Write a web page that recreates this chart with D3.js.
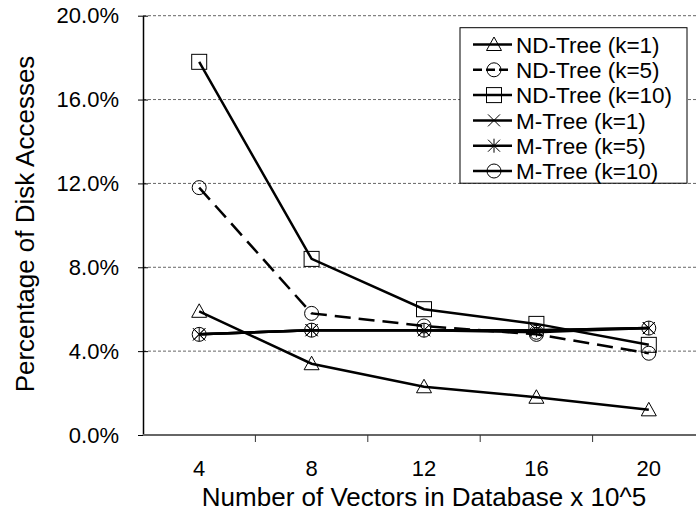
<!DOCTYPE html>
<html><head><meta charset="utf-8">
<script src="https://cdn.jsdelivr.net/npm/d3@7"></script>
<style>body{margin:0;background:#fff}svg{display:block;font-family:"Liberation Sans",Arial,sans-serif}</style>
</head><body><svg id="c" width="696" height="523"></svg>
<script>
const categories = ["4","8","12","16","20"];
const yTicks = [0,0.04,0.08,0.12,0.16,0.20];
const seriesNames = ["ND-Tree (k=1)","ND-Tree (k=5)","ND-Tree (k=10)","M-Tree (k=1)","M-Tree (k=5)","M-Tree (k=10)"];
const ndTree1  = [0.059,0.034,0.023,0.018,0.012];
const ndTree5  = [0.118,0.058,0.052,0.048,0.039];
const ndTree10 = [0.178,0.084,0.060,0.053,0.043];
const mTree1   = [0.048,0.050,0.050,0.050,0.051];
const mTree5   = [0.048,0.050,0.050,0.050,0.051];
const mTree10  = [0.048,0.050,0.050,0.049,0.051];
const xTitle = "Number of Vectors in Database x 10^5";
const yTitle = "Percentage of Disk Accesses";

const series = [
  {name:seriesNames[0], values:ndTree1,  marker:"triangle", dash:null},
  {name:seriesNames[1], values:ndTree5,  marker:"circle",   dash:"16,8"},
  {name:seriesNames[2], values:ndTree10, marker:"square",   dash:null},
  {name:seriesNames[3], values:mTree1,   marker:"x",        dash:null},
  {name:seriesNames[4], values:mTree5,   marker:"star",     dash:null},
  {name:seriesNames[5], values:mTree10,  marker:"circle",   dash:null}
];

const svg = d3.select("#c");
const L = 143, R = 705, T = 15.7, B = 435;
const x = d3.scaleBand().domain(categories).range([L,R]).padding(0);
const cx = c => x(c) + x.bandwidth()/2;
const y = d3.scaleLinear().domain([0,0.2]).range([B,T]);

// gridlines
svg.append("g").selectAll("line").data(yTicks.filter(d=>d>0)).join("line")
  .attr("x1",L).attr("x2",696).attr("y1",d=>y(d)).attr("y2",d=>y(d))
  .attr("stroke","#666").attr("stroke-width",1).attr("stroke-dasharray","3,2");

// y axis
const yAxis = d3.axisLeft(y).tickValues(yTicks).tickFormat(d3.format(".1%")).tickSizeInner(5).tickSizeOuter(0).tickPadding(19);
const gy = svg.append("g").attr("transform",`translate(${L},0)`).call(yAxis);
gy.select(".domain").attr("stroke","#000").attr("stroke-width",1.5);
gy.selectAll(".tick line").attr("x2",-5).attr("x1",5).attr("stroke","#000");
gy.selectAll("text").attr("font-size",22).attr("font-family","Liberation Sans, Arial, sans-serif").attr("fill","#000");

// x axis
const gx = svg.append("g").attr("transform",`translate(0,${B})`);
gx.append("line").attr("x1",L).attr("x2",696).attr("stroke","#666").attr("stroke-width",2);
gx.selectAll("line.t").data(categories.slice(1).map(c=>x(c))).join("line").attr("class","t")
  .attr("x1",d=>d).attr("x2",d=>d).attr("y1",0).attr("y2",7).attr("stroke","#333").attr("stroke-width",1);
gx.selectAll("text").data(categories).join("text")
  .attr("x",d=>cx(d)).attr("y",41).attr("text-anchor","middle")
  .attr("font-size",22).text(d=>d);

// titles
svg.append("text").attr("x",(L+R)/2).attr("y",506).attr("text-anchor","middle").attr("font-size",26).text(xTitle);
svg.append("text").attr("transform",`translate(34,224) rotate(-90)`).attr("text-anchor","middle").attr("font-size",26).text(yTitle);

function drawMarker(g, type, px, py){
  const s = "#000";
  if(type==="triangle"){
    g.append("path").attr("d",`M${px},${py-7.5}L${px+7.5},${py+6}L${px-7.5},${py+6}Z`).attr("fill","none").attr("stroke",s).attr("stroke-width",1);
  } else if(type==="circle"){
    g.append("circle").attr("cx",px).attr("cy",py).attr("r",7).attr("fill","none").attr("stroke",s).attr("stroke-width",1);
  } else if(type==="square"){
    g.append("rect").attr("x",px-7.5).attr("y",py-7.5).attr("width",15).attr("height",15).attr("fill","none").attr("stroke",s).attr("stroke-width",1);
  } else if(type==="x"){
    g.append("path").attr("d",`M${px-6},${py-6}L${px+6},${py+6}M${px-6},${py+6}L${px+6},${py-6}`).attr("stroke",s).attr("stroke-width",1);
  } else if(type==="star"){
    g.append("path").attr("d",`M${px-6},${py-6}L${px+6},${py+6}M${px-6},${py+6}L${px+6},${py-6}M${px},${py-7}L${px},${py+7}`).attr("stroke",s).attr("stroke-width",1);
  }
}

const line = d3.line().x((d,i)=>cx(categories[i])).y(d=>y(d));
const plot = svg.append("g");
series.forEach(s=>{
  plot.append("path").attr("d",line(s.values)).attr("fill","none").attr("stroke","#000")
    .attr("stroke-width",2.5).attr("stroke-dasharray",s.dash);
});
series.forEach(s=>{
  const g = plot.append("g");
  s.values.forEach((v,i)=>drawMarker(g,s.marker,cx(categories[i]),y(v)));
});

// legend
const lg = svg.append("g");
lg.append("rect").attr("x",460).attr("y",27.7).attr("width",227).attr("height",155.5).attr("fill","#fff").attr("stroke","#000").attr("stroke-width",1);
series.forEach((s,i)=>{
  const ry = 44.5 + i*25.3;
  lg.append("line").attr("x1",473).attr("x2",512).attr("y1",ry).attr("y2",ry).attr("stroke","#000").attr("stroke-width",2.5).attr("stroke-dasharray",s.dash?"9,4":null);
  const g = lg.append("g");
  drawMarker(g,s.marker,494,ry);
  lg.append("text").attr("x",516).attr("y",ry).attr("dy","0.36em").attr("font-size",22.5).text(s.name);
});
</script></body></html>
